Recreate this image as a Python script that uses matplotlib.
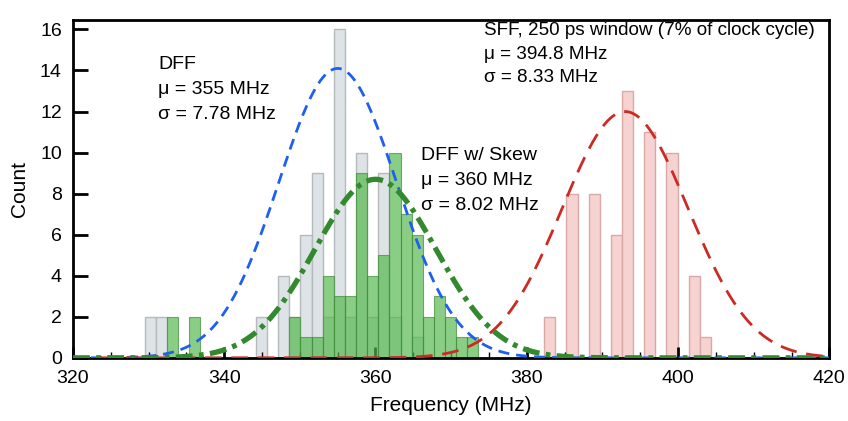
import numpy as np
import matplotlib.pyplot as plt
from matplotlib.ticker import MultipleLocator

plt.rcParams['font.family'] = ['Liberation Sans', 'DejaVu Sans']

# histogram bins (MHz)
bin_w = 1.47
dff_start = 329.5
sff_start = 382.3

# DFF counts (gray)
dff_counts = [2, 2, 0, 0, 0, 0, 0, 0, 0, 0, 2, 0, 4, 2, 6, 9, 2, 16, 2, 10,
              2, 9, 2, 0, 1, 0, 0, 0, 0, 0]
# DFF w/ skew counts (green)
skew_counts = [0, 0, 2, 0, 2, 0, 0, 0, 0, 0, 0, 0, 0, 2, 1, 1, 4, 3, 3, 9,
               4, 5, 10, 7, 6, 2, 3, 2, 1, 1]
# SFF counts (pink)
sff_counts = [2, 0, 8, 0, 8, 0, 6, 13, 0, 11, 0, 10, 0, 4, 1]

# gaussian fits: mean, sigma, peak height
dff_fit = (355, 7.78, 14.1)
skew_fit = (360, 8.02, 8.7)
sff_fit = (393, 8.33, 12.0)

fig = plt.figure(figsize=(8.48, 4.21), dpi=100)
ax = fig.add_axes([0.086, 0.150, 0.892, 0.802])


def hist_bars(start, counts, **kw):
    counts = np.array(counts)
    lefts = start + bin_w * np.arange(len(counts))
    keep = counts > 0
    ax.bar(lefts[keep], counts[keep], width=bin_w, align='edge', **kw)


hist_bars(dff_start, dff_counts, color='#dde3e6', edgecolor='#b5babd', linewidth=1, zorder=1)
hist_bars(dff_start, skew_counts, color='#52b84a', alpha=0.68, edgecolor='#3d8a37',
          linewidth=0.8, zorder=2)
hist_bars(sff_start, sff_counts, color='#f6d3d1', edgecolor='#d8a9a7', linewidth=1, zorder=1)

xs = np.linspace(320, 420, 600)


def gauss(m, s, h):
    return h * np.exp(-0.5 * ((xs - m) / s) ** 2)


ax.plot(xs, gauss(*dff_fit), color='#1f5ff0', lw=2, dashes=(4, 2.5), zorder=4)
ax.plot(xs, gauss(*sff_fit), color='#cc2a24', lw=2, dashes=(6, 3.5), zorder=4)
ax.plot(xs, gauss(*skew_fit), color='#338a2e', lw=3.8, dashes=(3.2, 1.2, 0.9, 1.2), zorder=5)

tfont = dict(fontsize=14, va='top', ha='left', linespacing=1.6)
ax.text(331.3, 14.7, 'DFF\nμ = 355 MHz\nσ = 7.78 MHz', **tfont)
ax.text(366.0, 10.25, 'DFF w/ Skew\nμ = 360 MHz\nσ = 8.02 MHz', **tfont)
ax.text(374.3, 16.35, 'SFF, 250 ps window (7% of clock cycle)\nμ = 394.8 MHz\nσ = 8.33 MHz',
        fontsize=13.6, va='top', ha='left', linespacing=1.5)

ax.set_xlim(320, 420)
ax.set_ylim(0, 16.45)
ax.xaxis.set_major_locator(MultipleLocator(20))
ax.xaxis.set_minor_locator(MultipleLocator(5))
ax.yaxis.set_major_locator(MultipleLocator(2))
ax.tick_params(axis='both', which='major', direction='in', width=2, labelsize=14)
ax.tick_params(axis='y', which='major', length=11, pad=8)
ax.tick_params(axis='x', which='major', length=8, pad=9)
ax.tick_params(axis='x', which='minor', direction='in', length=4, width=1)
for sp in ax.spines.values():
    sp.set_linewidth(2)

ax.set_xlabel('Frequency (MHz)', fontsize=15, labelpad=6)
ax.set_ylabel('Count', fontsize=15, labelpad=8)

plt.savefig('out.png', dpi=100)
